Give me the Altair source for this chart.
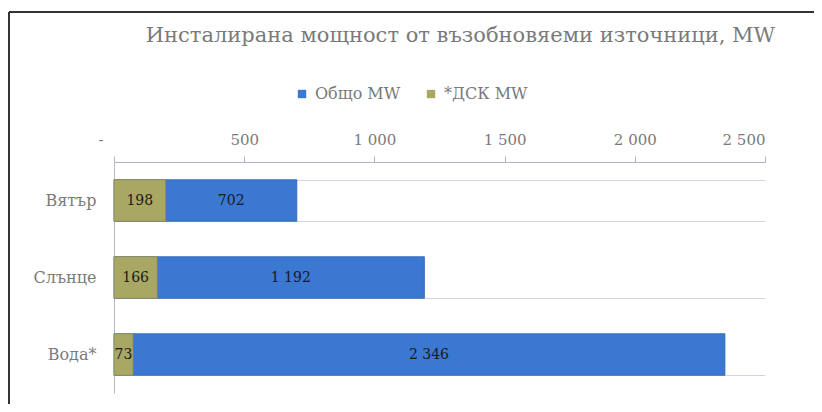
import altair as alt
import pandas as pd

categories = ["Вятър", "Слънце", "Вода*"]
total_mw = [702, 1192, 2346]
dsk_mw = [198, 166, 73]
series_names = ["Общо MW", "*ДСК MW"]
tick_values = [0, 500, 1000, 1500, 2000, 2500]
title_text = "Инсталирана мощност от възобновяеми източници, MW"

rows = []
for c, t, d in zip(categories, total_mw, dsk_mw):
    rows.append({"cat": c, "series": series_names[0], "value": t, "dsk": d, "ord": 0})
    rows.append({"cat": c, "series": series_names[1], "value": d, "dsk": d, "ord": 1})
df = pd.DataFrame(rows)

FONT = "DejaVu Serif"
GREY = "#7a7a7a"
BLUE = "#3a78d2"
OLIVE = "#a9a764"

x_scale = alt.Scale(domain=[0, 2500], nice=False, zero=True)
y_scale = alt.Scale(domain=categories, paddingInner=0.46, paddingOuter=0.23)

base = alt.Chart(df)

bars = base.mark_bar(strokeWidth=0.8).encode(
    x=alt.X("value:Q", scale=x_scale, stack=None,
            axis=alt.Axis(orient="top", values=tick_values, title=None,
                          labelExpr="datum.value == 0 ? '-' : replace(format(datum.value, ','), ',', ' ')",
                          labelOffset={"condition": {"test": "datum.value == 0", "value": -16}, "value": 0},
                          labelFont=FONT, labelFontSize=15, labelColor=GREY,
                          labelPadding=9, tickSize=6, tickColor="#b0b0c0",
                          domainColor="#b0b0c0", grid=False)),
    y=alt.Y("cat:N", scale=y_scale, sort=categories,
            axis=alt.Axis(title=None, ticks=False, grid=True, tickBand="extent",
                          gridColor="#d4d4dc", domainColor="#b8b8c8",
                          labelFont=FONT, labelFontSize=16, labelColor=GREY,
                          labelPadding=18)),
    color=alt.Color("series:N",
                    scale=alt.Scale(domain=series_names, range=[BLUE, OLIVE]),
                    legend=alt.Legend(title=None, orient="none", direction="horizontal",
                                      legendX=180, legendY=-76,
                                      symbolType="square", symbolSize=70,
                                      symbolStrokeWidth=0,
                                      labelFont=FONT, labelFontSize=16, labelColor=GREY,
                                      labelOffset=5, columnPadding=22)),
    stroke=alt.Color("series:N",
                     scale=alt.Scale(domain=series_names, range=["#2c62b0", "#8f8d50"]),
                     legend=None),
    order=alt.Order("ord:Q"),
)

labels = base.transform_calculate(
    xpos="datum.ord == 0 ? (datum.dsk + datum.value) / 2 : datum.value / 2",
    lbl="replace(format(datum.value, ','), ',', ' ')",
).mark_text(font=FONT, fontSize=14, color="#1a1a1a", baseline="middle").encode(
    x=alt.X("xpos:Q", scale=x_scale),
    y=alt.Y("cat:N", scale=y_scale, sort=categories),
    text="lbl:N",
)

frame_left = alt.Chart(df).mark_rule(color="#333333", strokeWidth=2).encode(
    x=alt.value(-105), y=alt.value(-150), y2=alt.value(260))
frame_top = alt.Chart(df).mark_rule(color="#333333", strokeWidth=2).encode(
    x=alt.value(-105), x2=alt.value(720), y=alt.value(-150))

chart = alt.layer(bars, labels, frame_left, frame_top).properties(
    width=651, height=231,
    autosize=alt.AutoSizeParams(type="none"),
    padding={"left": 106, "top": 154, "right": 49, "bottom": 11},
    title=alt.TitleParams(title_text, font=FONT, fontSize=21, fontWeight="normal",
                          color=GREY, anchor="middle", frame="group",
                          baseline="alphabetic", dx=21, dy=52, offset=0),
).configure_view(stroke=None)

chart.save("out.html", embed_options={"renderer": "svg", "actions": False})
